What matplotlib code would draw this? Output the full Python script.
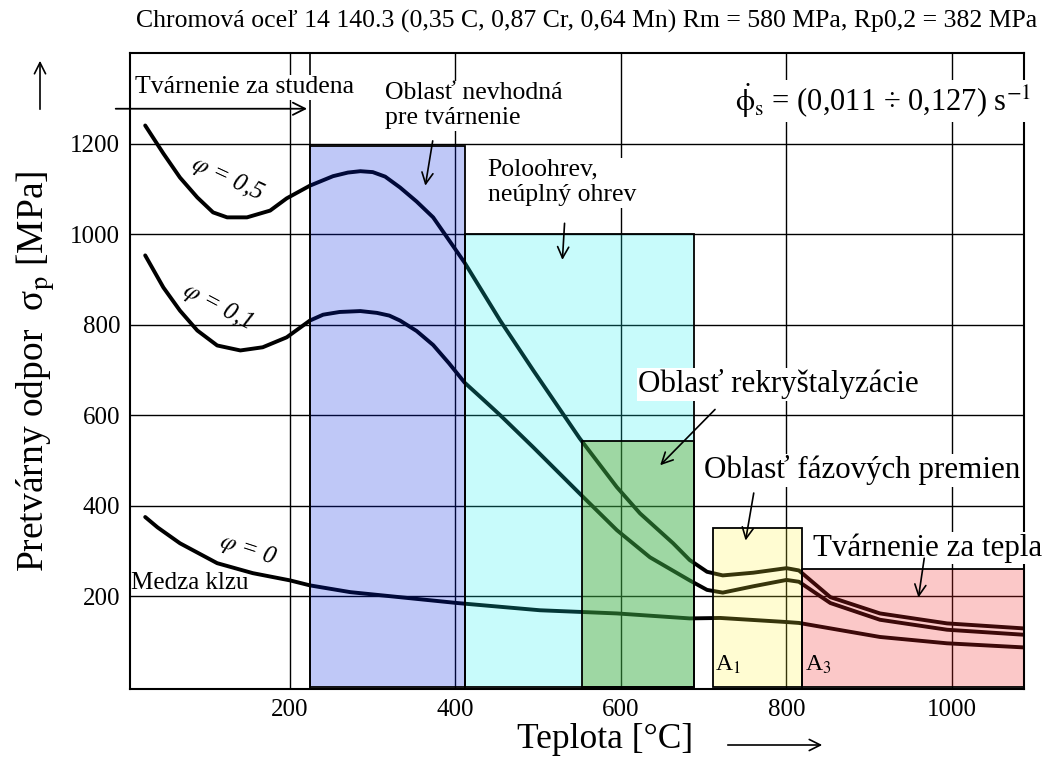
import numpy as np
import matplotlib.pyplot as plt
from matplotlib.patches import Rectangle

plt.rcParams['font.family'] = ['Liberation Serif', 'DejaVu Serif']
plt.rcParams['mathtext.fontset'] = 'stix'

# curves: temperature [C] and flow stress [MPa]
t_05 = [25, 47, 67, 88, 107, 124, 148, 176, 196, 224, 252, 270, 285, 300, 315, 333, 353, 373, 411, 454,
        494, 550, 595, 623, 663, 683, 704, 723, 760, 800, 815, 853, 913, 994, 1086]
s_05 = [1240, 1178, 1125, 1081, 1048, 1037, 1037, 1052, 1079, 1107, 1128, 1136, 1139, 1137, 1127, 1103, 1072, 1037, 937, 809,
        699, 549, 441, 383, 317, 280, 254, 246, 252, 262, 257, 198, 162, 140, 129]

t_01 = [25, 47, 67, 88, 112, 140, 167, 196, 224, 240, 260, 285, 305, 320, 333, 353, 373, 392, 411, 432,
        454, 494, 550, 595, 635, 683, 704, 723, 760, 800, 815, 853, 913, 994, 1086]
s_01 = [953, 882, 831, 787, 754, 743, 750, 772, 809, 822, 828, 830, 826, 820, 809, 786, 755, 715, 672, 637,
        600, 529, 427, 346, 286, 235, 214, 208, 222, 236, 232, 185, 148, 126, 115]

t_00 = [25, 40, 67, 112, 155, 200, 224, 273, 402, 502, 595, 683, 720, 800, 815, 913, 994, 1086]
s_00 = [375, 352, 317, 273, 251, 235, 224, 209, 185, 169, 162, 151, 152, 143, 141, 110, 96, 87]

# shaded regions: left, right, top [MPa], colour (rgba)
box_x0 = [224, 411, 553, 711, 819]
box_x1 = [411, 688, 688, 819, 1087]
box_top = [1195, 1000, 543, 351, 260]
box_col = [(0.01, 0.14, 0.89, 0.25), (0.07, 0.95, 0.95, 0.23), (0.32, 0.58, 0.0, 0.35),
           (1.0, 0.95, 0.2, 0.22), (0.95, 0.14, 0.14, 0.25)]

xticks = [200, 400, 600, 800, 1000]
yticks = [200, 400, 600, 800, 1000, 1200]

fig = plt.figure(figsize=(10.44, 7.58), dpi=100)
ax = fig.add_axes([0.1245, 0.091, 0.8563, 0.839])
ax.set_xlim(6.6, 1087)
ax.set_ylim(-5, 1400)

# grid first, boxes on top with transparency (tints the curves like the original)
for x in xticks:
    ax.axvline(x, color='black', lw=1.0, zorder=1)
for y in yticks:
    ax.axhline(y, color='black', lw=1.0, zorder=1)
ax.axvline(224, color='black', lw=1.2, zorder=1)

ax.plot(t_05, s_05, color='black', lw=2.8, zorder=2, solid_capstyle='round', solid_joinstyle='round')
ax.plot(t_01, s_01, color='black', lw=2.8, zorder=2, solid_capstyle='round', solid_joinstyle='round')
ax.plot(t_00, s_00, color='black', lw=2.8, zorder=2, solid_capstyle='round', solid_joinstyle='round')

for x0, x1, top, c in zip(box_x0, box_x1, box_top, box_col):
    ax.add_patch(Rectangle((x0, 0), x1 - x0, top, facecolor=c, edgecolor='none', zorder=3))
    ax.add_patch(Rectangle((x0, 0), x1 - x0, top, facecolor='none', edgecolor='black', lw=1.3, zorder=4))

ax.set_xticks(xticks)
ax.set_yticks(yticks)
ax.tick_params(length=0, labelsize=18, pad=7)
for sp in ax.spines.values():
    sp.set_linewidth(1.5)

wb = dict(facecolor='white', edgecolor='none', pad=1)

# texts
fig.text(0.562, 0.972, 'Chromová oceľ 14 140.3 (0,35 C, 0,87 Cr, 0,64 Mn) Rm = 580 MPa, Rp0,2 = 382 MPa',
         ha='center', va='center', fontsize=18.5)
fig.text(0.034, 0.51, 'Pretvárny odpor  σ$_\\mathrm{p}$ [MPa]', rotation=90, ha='center', va='center', fontsize=27)
fig.text(0.58, 0.024, 'Teplota [°C]', ha='center', va='center', fontsize=25.5)

ax.annotate('', xy=(40, 700), xytext=(40, 646), xycoords='figure pixels',
            arrowprops=dict(arrowstyle='->', lw=1.2, mutation_scale=20))
ax.annotate('', xy=(825, 13), xytext=(725, 13), xycoords='figure pixels',
            arrowprops=dict(arrowstyle='->', lw=1.2, mutation_scale=20))

ax.text(13, 1324, 'Tvárnenie za studena', fontsize=18.5, va='center', bbox=wb, zorder=6)
ax.annotate('', xy=(224, 1277), xytext=(-14, 1277), annotation_clip=False,
            arrowprops=dict(arrowstyle='->', lw=1.3, mutation_scale=22))

ax.text(315, 1284, 'Oblasť nevhodná\npre tvárnenie', fontsize=18.5, va='center', linespacing=1.2, bbox=wb, zorder=6)
ax.annotate('', xy=(363, 1101), xytext=(373, 1212), arrowprops=dict(arrowstyle='->', lw=1.2, mutation_scale=20), zorder=6)

ax.text(439, 1114, 'Poloohrev,\nneúplný ohrev', fontsize=18.5, va='center', linespacing=1.2, bbox=wb, zorder=6)
ax.annotate('', xy=(529, 937), xytext=(532, 1030), arrowprops=dict(arrowstyle='->', lw=1.2, mutation_scale=20), zorder=6)

ax.text(738, 1295, '$\\dot{\\mathrm{\\phi}}_\\mathrm{s}$ = (0,011 ÷ 0,127) s$^{-1}$', fontsize=22, va='center', bbox=wb, zorder=6)

ax.text(125, 1123, '$\\varphi$ = 0,5', fontsize=18, style='italic', ha='center', va='center', rotation=-25, zorder=6)
ax.text(112, 840, '$\\varphi$ = 0,1', fontsize=18, style='italic', ha='center', va='center', rotation=-28, zorder=6)
ax.text(149, 302, '$\\varphi$ = 0', fontsize=18, style='italic', ha='center', va='center', rotation=-18, zorder=6)
ax.text(8, 229, 'Medza klzu', fontsize=18, va='center', zorder=6)

ax.text(790, 668, 'Oblasť rekryštalyzácie', fontsize=22.3, ha='center', va='center', bbox=wb, zorder=6)
ax.annotate('', xy=(645, 485), xytext=(716, 617), arrowprops=dict(arrowstyle='->', lw=1.2, mutation_scale=20), zorder=6)

ax.text(891, 478, 'Oblasť fázových premien', fontsize=22.3, ha='center', va='center', bbox=wb, zorder=6)
ax.annotate('', xy=(750, 317), xytext=(761, 434), arrowprops=dict(arrowstyle='->', lw=1.2, mutation_scale=20), zorder=6)

ax.text(971, 306, 'Tvárnenie za tepla', fontsize=22.3, ha='center', va='center', bbox=wb, zorder=6)
ax.annotate('', xy=(959, 191), xytext=(967, 290), arrowprops=dict(arrowstyle='->', lw=1.2, mutation_scale=20), zorder=6)

ax.text(714, 48, 'A$_\\mathrm{1}$', fontsize=17, va='center', zorder=6)
ax.text(822, 48, 'A$_\\mathrm{3}$', fontsize=17, va='center', zorder=6)

plt.savefig('out.png', dpi=100)
